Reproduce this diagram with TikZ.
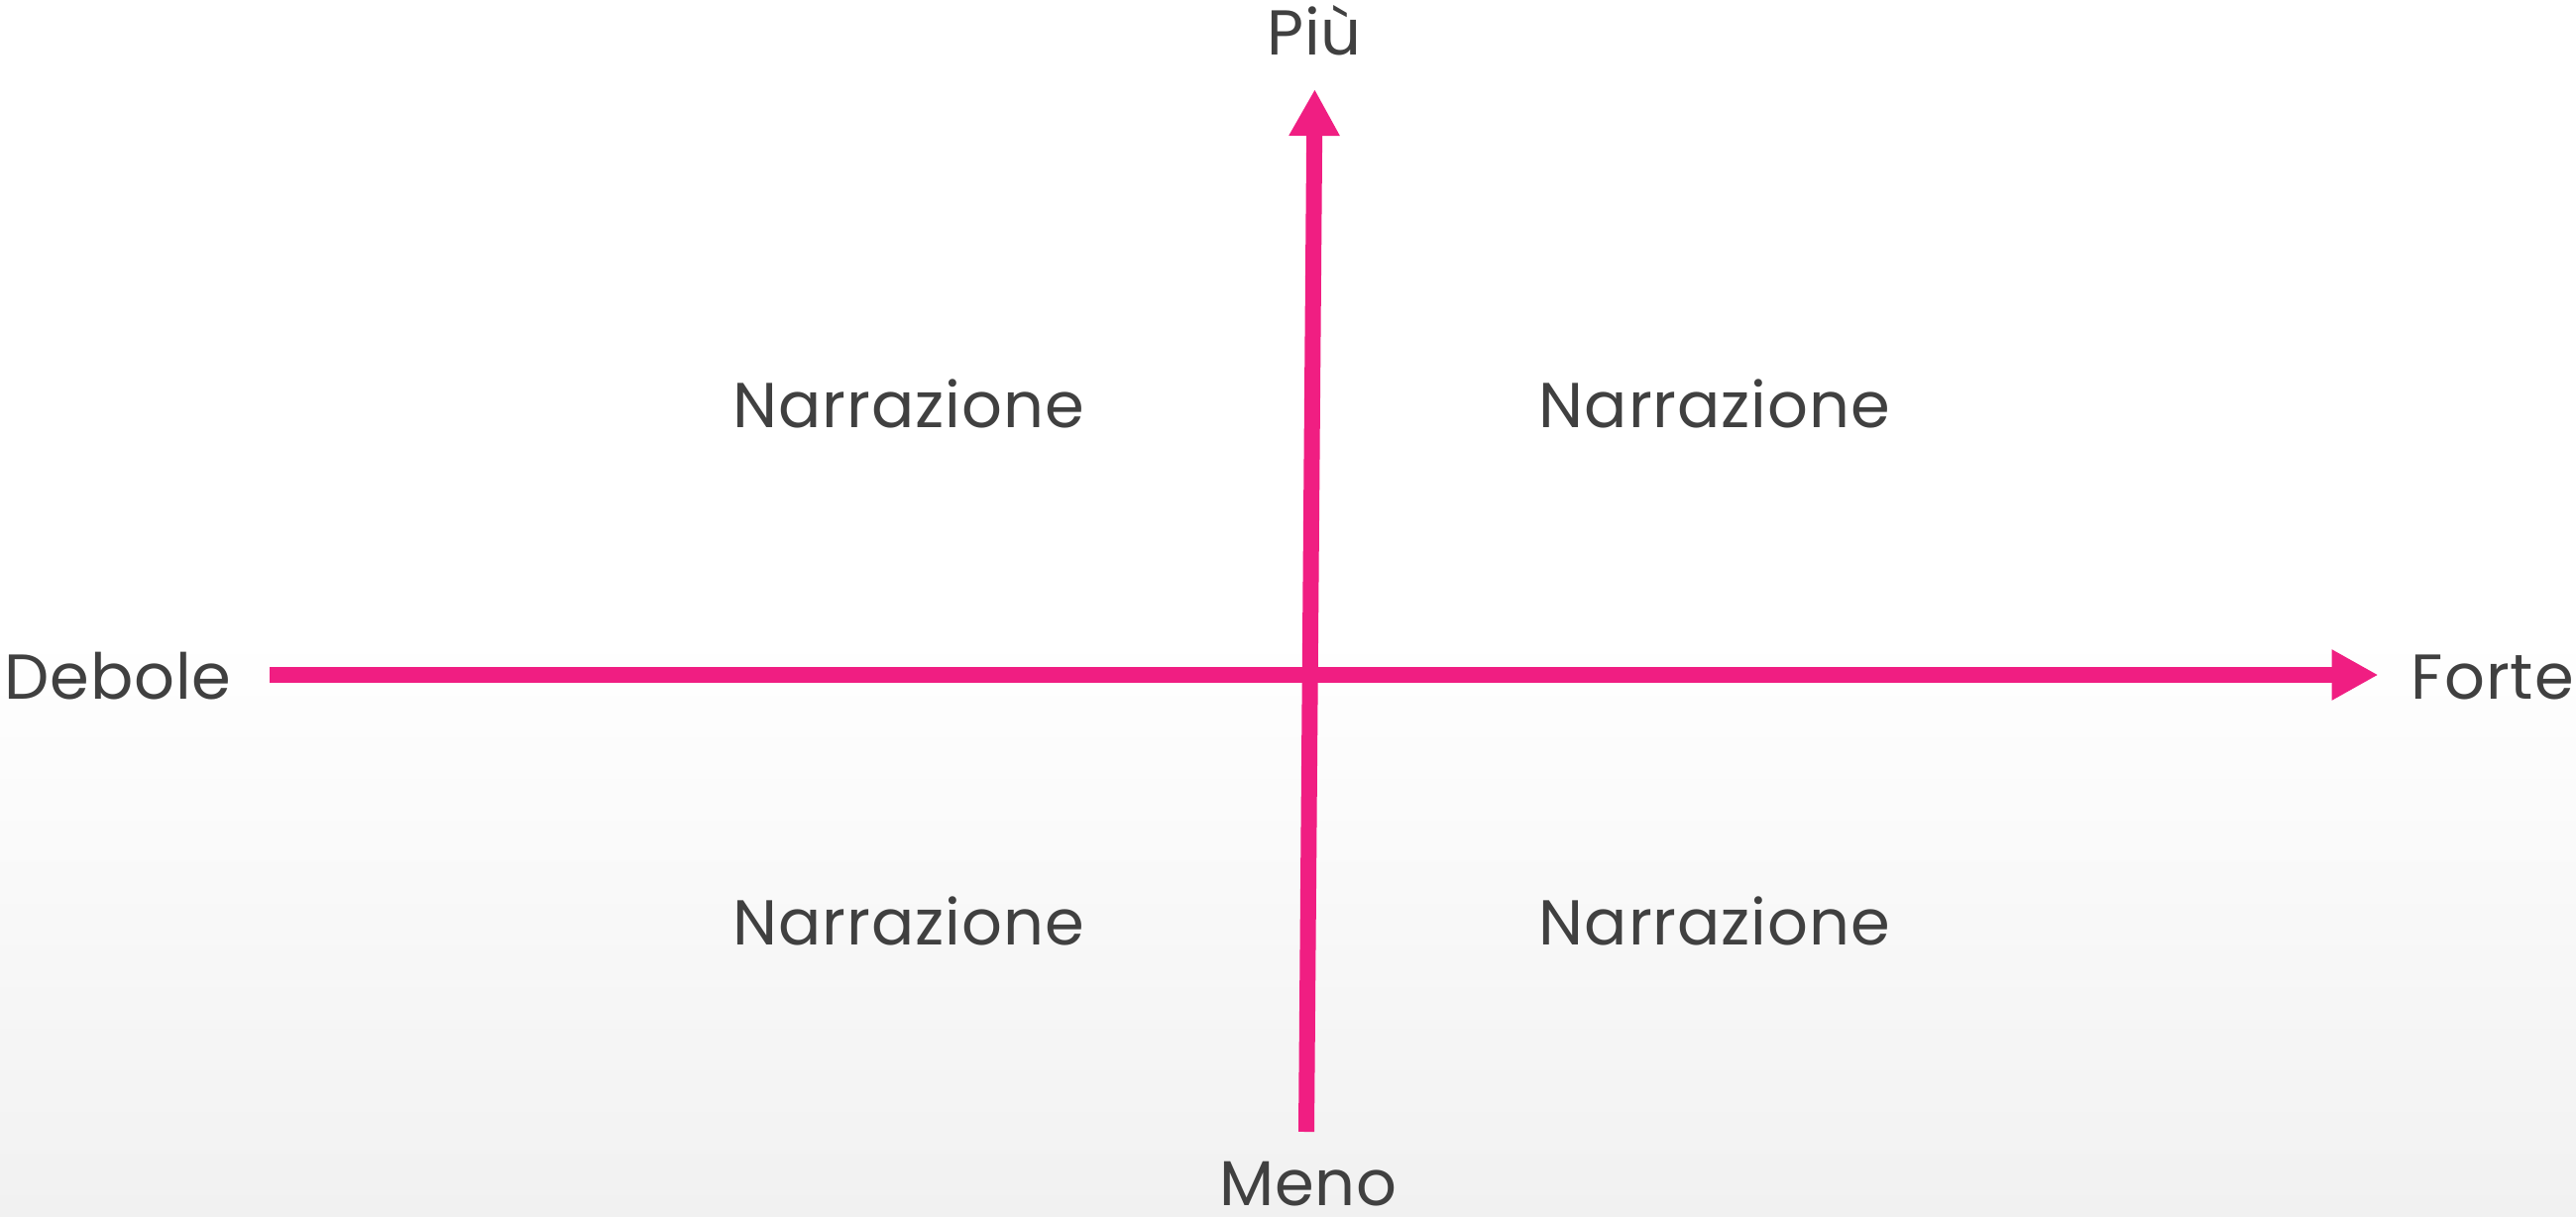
\documentclass[tikz,border=0pt]{standalone}
\usepackage{fontspec}
\setmainfont[LetterSpace=1.5]{Poppins}
\usetikzlibrary{arrows.meta}
\definecolor{axispink}{RGB}{240,30,130}
\definecolor{txt}{RGB}{64,64,64}
\definecolor{bgbot}{RGB}{241,241,241}
\begin{document}
\begin{tikzpicture}[x=1pt,y=-1pt,
  axis/.style={draw=axispink,line width=16pt,-{Triangle[length=47pt,width=48pt]}},
  lbl/.style={text=txt,inner sep=0pt,font=\fontsize{64}{76}\selectfont}]
\useasboundingbox (0,0) rectangle (2599,1227);
\fill[white] (0,0) rectangle (2599,640);
\shade[top color=white,bottom color=bgbot] (0,639) rectangle (2599,1227);
% axes
\coordinate (hstart) at (272,681);
\coordinate (hend) at (2399.5,681);
\coordinate (vstart) at (1318,1142);
\coordinate (vend) at (1326.5,90);
\draw[axis] (hstart) -- (hend);
\draw[axis] (vstart) -- (vend);
% labels
\node[lbl,anchor=base] (piu) at (1326,55) {Più};
\node[lbl,anchor=base] (meno) at (1320,1216) {Meno};
\node[lbl,anchor=base west] (debole) at (4,705) {Debole};
\node[lbl,anchor=base east] (forte) at (2597,705) {Forte};
\node[lbl,anchor=base] (n1) at (916.5,431.5) {Narrazione};
\node[lbl,anchor=base] (n2) at (1730,431.5) {Narrazione};
\node[lbl,anchor=base] (n3) at (916.5,953.5) {Narrazione};
\node[lbl,anchor=base] (n4) at (1730,953.5) {Narrazione};
\end{tikzpicture}
\end{document}
